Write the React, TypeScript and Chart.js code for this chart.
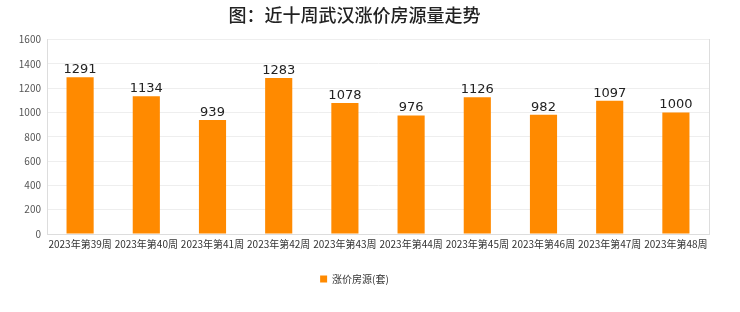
import React, { useEffect, useRef } from "react";
import { Chart, registerables } from "chart.js";

Chart.register(...registerables);

const categories = [
  "2023年第39周", "2023年第40周", "2023年第41周", "2023年第42周", "2023年第43周",
  "2023年第44周", "2023年第45周", "2023年第46周", "2023年第47周", "2023年第48周",
];
const values = [1291, 1134, 939, 1283, 1078, 976, 1126, 982, 1097, 1000];
const seriesName = "涨价房源(套)";
const titleText = "图：近十周武汉涨价房源量走势";

const FONT = "'Noto Sans CJK SC', 'Noto Sans', sans-serif";

const labelPlugin = {
  id: "barLabels",
  afterDatasetsDraw(chart: any) {
    const ctx = chart.ctx;
    const meta = chart.getDatasetMeta(0);
    ctx.save();
    ctx.font = `13px 'DejaVu Sans', sans-serif`;
    ctx.fillStyle = "#222";
    ctx.textAlign = "center";
    ctx.textBaseline = "bottom";
    meta.data.forEach((bar: any, i: number) => {
      ctx.fillText(String(values[i]), bar.x, bar.y - 1);
    });
    ctx.restore();
  },
};

export default function App() {
  const ref = useRef<HTMLCanvasElement>(null);
  useEffect(() => {
    document.body.style.margin = "0";
    const chart = new Chart(ref.current!, {
      type: "bar",
      data: {
        labels: categories,
        datasets: [
          {
            label: seriesName,
            data: values,
            backgroundColor: "#ff8a00",
            barPercentage: 0.41,
            categoryPercentage: 1,
          },
        ],
      },
      options: {
        animation: false,
        responsive: false,
        devicePixelRatio: 1,
        layout: { padding: { left: 0, right: 31, top: 0, bottom: 18 } },
        plugins: {
          title: {
            display: true,
            text: titleText,
            color: "#222",
            font: { family: FONT, size: 18, weight: "500" },
            padding: { top: 4, bottom: 14 },
          },
          legend: {
            position: "bottom",
            labels: {
              boxWidth: 7,
              boxHeight: 7,
              color: "#333",
              font: { family: FONT, size: 10 },
              padding: 20,
            },
          },
          tooltip: { enabled: false },
        },
        scales: {
          x: {
            grid: { display: true, drawOnChartArea: false, drawTicks: false, color: "#ddd" },
            border: { color: "#ddd" },
            ticks: { color: "#333", font: { family: FONT, size: 10 }, maxRotation: 0, autoSkip: false, padding: 4 },
          },
          y: {
            min: 0,
            max: 1600,
            ticks: {
              stepSize: 200,
              color: "#555",
              font: { family: FONT, size: 10 },
              padding: 6,
              callback: (v: any) => String(v),
            },
            grid: { color: "#eee", drawTicks: false },
            border: { color: "#ddd" },
            afterFit: (s: any) => { s.width = 47; },
          },
          y2: {
            position: "right",
            display: true,
            grid: { display: false, drawTicks: false },
            ticks: { display: false },
            border: { color: "#ddd" },
            afterFit: (s: any) => { s.width = 0; },
          },
        },
      },
      plugins: [labelPlugin],
    });
    return () => chart.destroy();
  }, []);
  return <canvas ref={ref} width={740} height={312} style={{ display: "block" }} />;
}
